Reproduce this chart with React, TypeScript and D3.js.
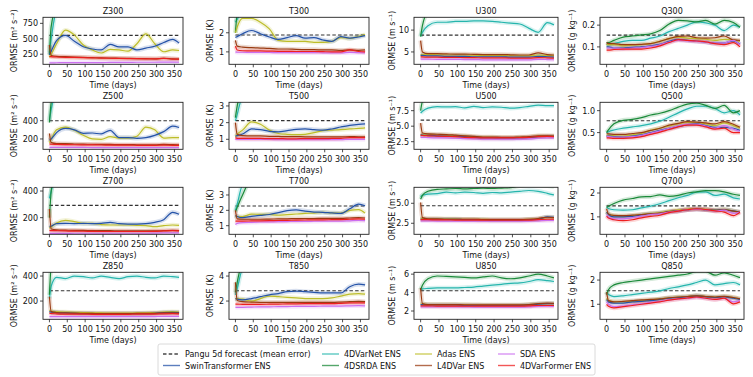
import * as d3 from "d3";

// sample days used for the smoothed curves
const DAYS = [0, 5, 20, 45, 70, 95, 120, 145, 170, 195, 220, 245, 270, 295, 320, 345, 363];

// panel order: Z300 T300 U300 Q300 / Z500 ... / Z700 ... / Z850 ...
const PANELS = ["Z300", "T300", "U300", "Q300", "Z500", "T500", "U500", "Q500", "Z700", "T700", "U700", "Q700", "Z850", "T850", "U850", "Q850"];
const UNITS = ["ORMSE (m² s⁻²)", "ORMSE (K)", "ORMSE (m s⁻¹)", "ORMSE (g kg⁻¹)"];

const Y_DOMAINS = [
  [87, 848], [0.35, 2.81], [2.17, 12.93], [0.02, 0.236],
  [87, 601], [0.4, 3.22], [1.27, 8.85], [0.12, 1.19],
  [75, 428], [0.44, 3.5], [1.12, 7.0], [0.27, 2.24],
  [54, 430], [0.54, 4.3], [1.1, 6.2], [0.38, 2.32],
];
const Y_TICKS = [
  [250, 500, 750], [1, 2], [5, 10], [0.1, 0.2],
  [200, 400], [1, 2, 3], [2.5, 5.0, 7.5], [0.5, 1.0],
  [200, 400], [1, 2, 3], [2.5, 5.0], [1, 2],
  [200, 400], [2, 4], [2, 4, 6], [1, 2],
];
const Y_FMT = ["d", "d", "d", ".1f", "d", "d", ".1f", ".1f", "d", "d", ".1f", "d", "d", "d", "d", "d"];
const X_TICKS = [0, 50, 100, 150, 200, 250, 300, 350];

const PANGU = [555, 1.88, 8.85, 0.154, 400, 2.12, 5.97, 0.77, 292, 2.28, 4.7, 1.46, 282, 2.82, 4.2, 1.56];

const SWIN = [
  [240, 300, 470, 555, 460, 370, 335, 320, 410, 370, 370, 320, 350, 380, 440, 490, 430],
  [1.75, 1.8, 1.95, 2.12, 1.95, 1.78, 1.65, 1.75, 1.85, 1.72, 1.75, 1.62, 1.55, 1.8, 1.72, 1.78, 1.85],
  [4.2, 4.2, 4.1, 4.1, 4.0, 4.0, 4.0, 3.9, 3.9, 3.9, 3.9, 3.8, 3.8, 3.8, 4.0, 3.9, 3.8],
  [0.1, 0.1, 0.095, 0.095, 0.098, 0.1, 0.105, 0.112, 0.125, 0.135, 0.13, 0.127, 0.122, 0.118, 0.118, 0.128, 0.112],
  [185, 200, 270, 315, 300, 262, 265, 255, 295, 215, 215, 207, 215, 240, 280, 340, 325],
  [1.2, 1.22, 1.32, 1.62, 1.58, 1.48, 1.45, 1.52, 1.6, 1.62, 1.58, 1.55, 1.62, 1.74, 1.84, 1.9, 1.92],
  [3.6, 3.55, 3.5, 3.45, 3.4, 3.35, 3.3, 3.2, 3.1, 3.1, 3.05, 3.05, 3.1, 3.15, 3.3, 3.35, 3.35],
  [0.42, 0.42, 0.41, 0.4, 0.42, 0.45, 0.5, 0.55, 0.6, 0.64, 0.68, 0.7, 0.66, 0.62, 0.62, 0.6, 0.55],
  [130, 135, 155, 157, 155, 157, 155, 157, 165, 155, 152, 152, 155, 165, 185, 240, 225],
  [1.67, 1.6, 1.52, 1.61, 1.67, 1.73, 1.85, 1.98, 2.03, 1.95, 1.89, 1.87, 1.83, 1.8, 2.1, 2.4, 2.3],
  [3.0, 3.0, 3.0, 3.0, 3.0, 3.0, 2.95, 2.95, 2.95, 2.9, 2.9, 2.9, 2.9, 2.95, 3.0, 3.3, 3.25],
  [1.2, 1.1, 1.0, 1.0, 1.02, 1.08, 1.12, 1.15, 1.22, 1.25, 1.3, 1.33, 1.3, 1.28, 1.3, 1.25, 1.2],
  [115, 112, 108, 105, 102, 100, 100, 98, 98, 98, 98, 100, 100, 102, 108, 110, 108],
  [2.2, 2.15, 2.1, 2.2, 2.35, 2.5, 2.6, 2.75, 2.8, 2.75, 2.7, 2.65, 2.65, 2.65, 3.15, 3.35, 3.3],
  [2.7, 2.7, 2.65, 2.65, 2.65, 2.65, 2.6, 2.6, 2.6, 2.6, 2.6, 2.6, 2.6, 2.65, 2.75, 2.8, 2.8],
  [1.2, 1.1, 1.05, 1.05, 1.1, 1.12, 1.15, 1.2, 1.25, 1.28, 1.3, 1.35, 1.3, 1.28, 1.3, 1.25, 1.2],
];

const VARNET = [
  [280, 500, 950, 1000, 1000, 1000, 1000, 1000, 1000, 1000, 1000, 1000, 1000, 1000, 1000, 1000, 1000],
  [2.55, 2.7, 3.2, 3.5, 3.5, 3.5, 3.5, 3.5, 3.5, 3.5, 3.5, 3.5, 3.5, 3.5, 3.5, 3.5, 3.5],
  [8.6, 9.5, 11.0, 11.8, 11.8, 12.0, 12.0, 12.1, 12.1, 12.0, 11.8, 11.6, 11.4, 10.4, 9.5, 11.7, 11.2],
  [0.11, 0.11, 0.115, 0.125, 0.13, 0.13, 0.14, 0.15, 0.17, 0.185, 0.2, 0.215, 0.21, 0.2, 0.175, 0.2, 0.19],
  [400, 520, 700, 700, 700, 700, 700, 700, 700, 700, 700, 700, 700, 700, 700, 700, 700],
  [2.1, 2.5, 3.5, 3.5, 3.5, 3.5, 3.5, 3.5, 3.5, 3.5, 3.5, 3.5, 3.5, 3.5, 3.5, 3.5, 3.5],
  [7.1, 7.4, 7.9, 8.15, 8.1, 8.15, 7.95, 8.2, 8.0, 8.1, 8.05, 7.9, 8.0, 8.2, 8.4, 8.3, 8.3],
  [0.5, 0.52, 0.56, 0.6, 0.63, 0.66, 0.7, 0.76, 0.85, 0.95, 1.04, 1.1, 1.1, 1.05, 0.95, 1.0, 0.9],
  [345, 400, 500, 500, 500, 500, 500, 500, 500, 500, 500, 500, 500, 500, 500, 500, 500],
  [2.0, 2.4, 3.6, 3.6, 3.6, 3.6, 3.6, 3.6, 3.6, 3.6, 3.6, 3.6, 3.6, 3.6, 3.6, 3.6, 3.6],
  [5.8, 6.0, 6.15, 6.2, 6.4, 6.3, 6.4, 6.35, 6.25, 6.35, 6.3, 6.4, 6.5, 6.6, 6.5, 6.25, 6.05],
  [1.42, 1.35, 1.3, 1.28, 1.3, 1.38, 1.45, 1.55, 1.68, 1.8, 1.9, 2.04, 2.05, 1.9, 1.95, 1.8, 1.75],
  [220, 320, 390, 380, 400, 395, 385, 400, 390, 380, 395, 400, 390, 385, 400, 395, 390],
  [2.5, 3.0, 4.5, 4.5, 4.5, 4.5, 4.5, 4.5, 4.5, 4.5, 4.5, 4.5, 4.5, 4.5, 4.5, 4.5, 4.5],
  [4.3, 4.4, 4.45, 4.5, 4.5, 4.5, 4.55, 4.6, 4.7, 4.8, 4.9, 5.0, 5.05, 5.2, 5.4, 5.3, 5.2],
  [1.5, 1.4, 1.32, 1.35, 1.4, 1.45, 1.5, 1.55, 1.65, 1.72, 1.8, 1.9, 2.0, 1.8, 1.85, 1.9, 1.8],
];

const SRDA = [
  [240, 700, 1000, 1000, 1000, 1000, 1000, 1000, 1000, 1000, 1000, 1000, 1000, 1000, 1000, 1000, 1000],
  [2.0, 3.0, 3.5, 3.5, 3.5, 3.5, 3.5, 3.5, 3.5, 3.5, 3.5, 3.5, 3.5, 3.5, 3.5, 3.5, 3.5],
  [8.5, 11, 14, 14, 14, 14, 14, 14, 14, 14, 14, 14, 14, 14, 14, 14, 14],
  [0.12, 0.12, 0.13, 0.145, 0.15, 0.155, 0.16, 0.175, 0.205, 0.222, 0.22, 0.215, 0.222, 0.205, 0.222, 0.212, 0.19],
  [380, 600, 800, 800, 800, 800, 800, 800, 800, 800, 800, 800, 800, 800, 800, 800, 800],
  [2.3, 3.0, 4, 4, 4, 4, 4, 4, 4, 4, 4, 4, 4, 4, 4, 4, 4],
  [7.5, 9, 10, 10, 10, 10, 10, 10, 10, 10, 10, 10, 10, 10, 10, 10, 10],
  [0.5, 0.56, 0.7, 0.78, 0.8, 0.84, 0.9, 0.94, 1.0, 1.08, 1.15, 1.17, 1.12, 1.05, 1.12, 0.95, 1.0],
  [200, 400, 600, 600, 600, 600, 600, 600, 600, 600, 600, 600, 600, 600, 600, 600, 600],
  [1.9, 2.2, 3.0, 4, 4, 4, 4, 4, 4, 4, 4, 4, 4, 4, 4, 4, 4],
  [5.5, 6.0, 6.5, 6.75, 6.8, 6.85, 6.8, 6.85, 6.9, 6.85, 6.9, 6.95, 7.2, 7.3, 7.3, 7.2, 7.1],
  [1.4, 1.45, 1.56, 1.7, 1.77, 1.84, 1.85, 1.92, 1.86, 1.9, 2.0, 2.05, 2.1, 2.1, 2.05, 1.95, 1.9],
  [250, 500, 700, 700, 700, 700, 700, 700, 700, 700, 700, 700, 700, 700, 700, 700, 700],
  [2.7, 3.5, 5, 5, 5, 5, 5, 5, 5, 5, 5, 5, 5, 5, 5, 5, 5],
  [4.3, 4.8, 5.5, 5.8, 5.75, 5.7, 5.65, 5.6, 5.7, 5.8, 5.6, 5.5, 5.6, 5.8, 6.0, 5.8, 5.6],
  [1.4, 1.6, 1.8, 1.9, 1.95, 2.0, 2.05, 2.1, 2.15, 2.2, 2.25, 2.35, 2.35, 2.2, 2.3, 2.2, 2.1],
];

const ADAS = [
  [200, 250, 420, 640, 560, 400, 320, 270, 330, 320, 300, 420, 580, 420, 290, 320, 310],
  [2.0, 2.3, 2.75, 2.75, 2.55, 2.2, 1.6, 1.55, 1.55, 1.55, 1.5, 1.5, 1.55, 1.75, 1.7, 1.82, 1.9],
  [4.4, 4.4, 4.4, 4.35, 4.3, 4.3, 4.3, 4.25, 4.2, 4.2, 4.2, 4.15, 4.1, 4.1, 4.3, 4.2, 4.1],
  [0.11, 0.11, 0.11, 0.105, 0.108, 0.11, 0.115, 0.125, 0.138, 0.145, 0.14, 0.138, 0.135, 0.13, 0.135, 0.132, 0.125],
  [160, 200, 300, 330, 295, 240, 200, 195, 225, 210, 210, 230, 330, 300, 210, 215, 214],
  [1.15, 1.3, 1.55, 2.05, 1.9, 1.55, 1.35, 1.3, 1.28, 1.3, 1.4, 1.52, 1.55, 1.58, 1.62, 1.65, 1.68],
  [3.7, 3.65, 3.6, 3.55, 3.5, 3.45, 3.4, 3.3, 3.2, 3.2, 3.15, 3.15, 3.2, 3.25, 3.4, 3.4, 3.4],
  [0.45, 0.44, 0.43, 0.42, 0.45, 0.48, 0.55, 0.6, 0.65, 0.7, 0.73, 0.73, 0.7, 0.66, 0.72, 0.66, 0.6],
  [120, 130, 160, 180, 170, 157, 157, 148, 145, 145, 145, 142, 140, 132, 140, 145, 142],
  [1.6, 1.6, 1.6, 1.75, 1.74, 1.74, 1.68, 1.72, 1.76, 1.8, 1.82, 1.87, 1.83, 1.82, 2.0, 2.05, 1.82],
  [3.1, 3.1, 3.05, 3.05, 3.05, 3.05, 3.0, 3.0, 3.0, 2.95, 2.95, 2.95, 2.95, 3.0, 3.05, 3.2, 3.2],
  [1.2, 1.12, 1.05, 1.02, 1.05, 1.1, 1.15, 1.18, 1.25, 1.3, 1.33, 1.35, 1.32, 1.3, 1.32, 1.25, 1.2],
  [125, 120, 115, 112, 110, 108, 106, 105, 104, 104, 104, 105, 106, 108, 112, 115, 112],
  [2.2, 2.2, 2.15, 2.0, 2.2, 2.4, 2.35, 2.3, 2.25, 2.2, 2.2, 2.2, 2.25, 2.4, 2.55, 2.6, 2.55],
  [2.75, 2.75, 2.7, 2.7, 2.7, 2.7, 2.7, 2.65, 2.65, 2.65, 2.65, 2.65, 2.65, 2.7, 2.75, 2.8, 2.8],
  [1.25, 1.15, 1.1, 1.1, 1.12, 1.15, 1.18, 1.22, 1.27, 1.3, 1.32, 1.36, 1.32, 1.3, 1.32, 1.28, 1.22],
];

const L4DVAR = [
  [400, 230, 215, 210, 205, 200, 195, 190, 188, 185, 182, 180, 178, 175, 185, 175, 170],
  [1.6, 1.3, 1.25, 1.22, 1.2, 1.18, 1.15, 1.15, 1.13, 1.12, 1.12, 1.1, 1.1, 1.08, 1.1, 1.08, 1.1],
  [7.6, 5.0, 4.6, 4.6, 4.55, 4.5, 4.5, 4.45, 4.4, 4.4, 4.4, 4.35, 4.3, 4.3, 4.8, 4.4, 4.3],
  [0.12, 0.115, 0.115, 0.11, 0.11, 0.112, 0.115, 0.125, 0.138, 0.148, 0.15, 0.142, 0.14, 0.142, 0.15, 0.132, 0.13],
  [260, 160, 150, 148, 145, 143, 142, 140, 140, 138, 138, 137, 136, 136, 140, 138, 137],
  [2.0, 1.3, 1.22, 1.2, 1.2, 1.18, 1.17, 1.16, 1.16, 1.15, 1.15, 1.14, 1.14, 1.14, 1.16, 1.15, 1.15],
  [5.5, 3.9, 3.75, 3.7, 3.65, 3.55, 3.45, 3.35, 3.25, 3.25, 3.2, 3.2, 3.25, 3.3, 3.45, 3.45, 3.4],
  [0.48, 0.47, 0.46, 0.46, 0.48, 0.5, 0.55, 0.6, 0.67, 0.71, 0.75, 0.74, 0.72, 0.7, 0.75, 0.69, 0.62],
  [265, 115, 108, 106, 105, 104, 103, 102, 102, 101, 101, 100, 100, 100, 102, 104, 103],
  [2.0, 1.45, 1.42, 1.42, 1.42, 1.43, 1.44, 1.45, 1.46, 1.47, 1.47, 1.48, 1.48, 1.48, 1.5, 1.52, 1.5],
  [5.1, 3.2, 3.05, 3.05, 3.0, 3.0, 3.0, 3.0, 2.95, 2.95, 2.95, 2.95, 2.95, 3.0, 3.1, 3.25, 3.2],
  [1.35, 1.12, 1.06, 1.05, 1.07, 1.1, 1.13, 1.16, 1.22, 1.26, 1.3, 1.32, 1.3, 1.27, 1.3, 1.24, 1.2],
  [235, 115, 108, 105, 103, 102, 101, 100, 100, 100, 100, 101, 101, 102, 105, 105, 104],
  [3.5, 2.05, 1.95, 1.92, 1.9, 1.9, 1.9, 1.9, 1.9, 1.9, 1.9, 1.9, 1.9, 1.92, 1.95, 1.98, 1.95],
  [4.5, 2.8, 2.7, 2.7, 2.7, 2.7, 2.68, 2.68, 2.66, 2.66, 2.66, 2.66, 2.66, 2.7, 2.8, 2.85, 2.82],
  [1.5, 1.15, 1.1, 1.12, 1.15, 1.18, 1.2, 1.22, 1.27, 1.3, 1.32, 1.35, 1.32, 1.3, 1.33, 1.28, 1.22],
];

const SDA = [
  [110, 110, 112, 115, 115, 115, 115, 115, 118, 118, 118, 120, 120, 120, 122, 122, 120],
  [1.0, 0.98, 0.98, 0.97, 0.97, 0.97, 0.96, 0.96, 0.96, 0.96, 0.96, 0.95, 0.95, 0.95, 0.97, 0.96, 0.95],
  [3.35, 3.35, 3.35, 3.3, 3.3, 3.3, 3.25, 3.25, 3.2, 3.2, 3.2, 3.2, 3.2, 3.2, 3.3, 3.25, 3.2],
  [0.095, 0.095, 0.095, 0.092, 0.095, 0.097, 0.102, 0.11, 0.122, 0.13, 0.128, 0.125, 0.122, 0.117, 0.118, 0.13, 0.11],
  [108, 108, 108, 108, 107, 107, 106, 106, 106, 106, 105, 105, 105, 105, 106, 106, 105],
  [1.0, 1.0, 1.0, 0.99, 0.99, 0.99, 0.98, 0.98, 0.98, 0.98, 0.98, 0.98, 0.98, 0.98, 1.0, 1.0, 1.0],
  [3.2, 3.2, 3.15, 3.1, 3.1, 3.05, 3.0, 2.95, 2.9, 2.9, 2.9, 2.9, 2.92, 2.95, 3.05, 3.1, 3.1],
  [0.42, 0.41, 0.4, 0.4, 0.41, 0.44, 0.49, 0.54, 0.6, 0.65, 0.69, 0.69, 0.65, 0.6, 0.66, 0.58, 0.53],
  [82, 82, 82, 82, 83, 83, 83, 83, 83, 83, 83, 83, 83, 84, 85, 86, 86],
  [1.08, 1.15, 1.2, 1.22, 1.24, 1.25, 1.26, 1.27, 1.28, 1.28, 1.29, 1.3, 1.3, 1.3, 1.32, 1.34, 1.33],
  [2.8, 2.8, 2.8, 2.78, 2.78, 2.78, 2.76, 2.76, 2.75, 2.75, 2.75, 2.75, 2.75, 2.78, 2.8, 2.85, 2.85],
  [1.1, 1.0, 0.92, 0.92, 0.97, 1.03, 1.1, 1.13, 1.2, 1.25, 1.3, 1.32, 1.3, 1.25, 1.28, 1.15, 1.2],
  [75, 75, 75, 75, 75, 75, 75, 75, 75, 75, 75, 75, 75, 76, 77, 77, 77],
  [1.5, 1.5, 1.5, 1.52, 1.53, 1.54, 1.55, 1.56, 1.57, 1.58, 1.58, 1.59, 1.6, 1.6, 1.62, 1.63, 1.62],
  [2.45, 2.45, 2.45, 2.45, 2.44, 2.44, 2.44, 2.43, 2.43, 2.43, 2.43, 2.43, 2.43, 2.45, 2.5, 2.52, 2.5],
  [1.1, 1.0, 0.9, 0.93, 0.98, 1.02, 1.08, 1.12, 1.18, 1.22, 1.25, 1.28, 1.25, 1.2, 1.25, 1.1, 1.15],
];

const FORMER = [
  [215, 210, 205, 200, 198, 195, 190, 188, 185, 182, 180, 178, 176, 174, 182, 172, 170],
  [1.3, 1.1, 1.06, 1.05, 1.05, 1.04, 1.03, 1.03, 1.02, 1.02, 1.02, 1.01, 1.0, 1.0, 1.1, 1.02, 1.0],
  [3.9, 3.85, 3.8, 3.8, 3.75, 3.75, 3.7, 3.7, 3.65, 3.65, 3.65, 3.6, 3.6, 3.6, 3.7, 3.65, 3.6],
  [0.085, 0.085, 0.088, 0.09, 0.09, 0.09, 0.095, 0.105, 0.12, 0.133, 0.13, 0.127, 0.123, 0.115, 0.11, 0.12, 0.1],
  [148, 142, 140, 138, 137, 136, 135, 134, 133, 132, 132, 131, 130, 130, 133, 130, 130],
  [1.1, 1.06, 1.05, 1.05, 1.05, 1.04, 1.04, 1.03, 1.03, 1.04, 1.04, 1.04, 1.05, 1.06, 1.1, 1.1, 1.1],
  [3.55, 3.5, 3.45, 3.4, 3.35, 3.3, 3.2, 3.15, 3.1, 3.1, 3.1, 3.1, 3.15, 3.2, 3.3, 3.35, 3.3],
  [0.38, 0.38, 0.37, 0.37, 0.38, 0.41, 0.46, 0.51, 0.57, 0.63, 0.67, 0.67, 0.63, 0.58, 0.6, 0.5, 0.5],
  [105, 103, 102, 100, 99, 98, 97, 96, 96, 96, 96, 96, 96, 97, 100, 102, 100],
  [1.3, 1.3, 1.3, 1.31, 1.32, 1.33, 1.34, 1.35, 1.36, 1.37, 1.38, 1.38, 1.39, 1.4, 1.42, 1.44, 1.42],
  [2.95, 2.95, 2.95, 2.92, 2.92, 2.9, 2.9, 2.9, 2.88, 2.88, 2.88, 2.88, 2.88, 2.9, 2.95, 3.0, 3.0],
  [1.03, 0.95, 0.88, 0.84, 0.88, 0.96, 1.02, 1.07, 1.18, 1.24, 1.3, 1.34, 1.31, 1.25, 1.2, 1.05, 1.2],
  [105, 100, 98, 96, 95, 95, 94, 94, 94, 94, 94, 95, 95, 96, 98, 99, 98],
  [1.75, 1.75, 1.74, 1.74, 1.74, 1.75, 1.76, 1.77, 1.78, 1.79, 1.8, 1.8, 1.8, 1.82, 1.85, 1.86, 1.85],
  [2.55, 2.55, 2.55, 2.54, 2.54, 2.54, 2.53, 2.53, 2.53, 2.53, 2.53, 2.53, 2.53, 2.55, 2.6, 2.6, 2.6],
  [1.0, 0.92, 0.85, 0.9, 0.95, 1.0, 1.05, 1.1, 1.17, 1.22, 1.26, 1.3, 1.25, 1.2, 1.25, 1.02, 1.1],
];

const SERIES = [
  { name: "4DVarNet ENS", color: "#26b5ad", data: VARNET },
  { name: "4DSRDA ENS", color: "#1b8a3a", data: SRDA },
  { name: "Adas ENS", color: "#bdbd2a", data: ADAS },
  { name: "SwinTransformer ENS", color: "#2553a8", data: SWIN },
  { name: "L4DVar ENS", color: "#9a3b12", data: L4DVAR },
  { name: "SDA ENS", color: "#cc6ff0", data: SDA },
  { name: "4DVarFormer ENS", color: "#ee1f1f", data: FORMER },
];

const COL_X = [43, 229, 414, 600];
const COL_W = [140, 140, 144, 144];
const ROW_Y = [17.3, 102.3, 187.3, 272.3];
const ROW_H = 47;
const YLABEL_X = [14, 210.5, 392, 572.5];
const FONT = "DejaVu Sans";

function Panel({ idx }: { idx: number }) {
  const row = Math.floor(idx / 4);
  const col = idx % 4;
  const x0 = COL_X[col];
  const y0 = ROW_Y[row];
  const w = COL_W[col];
  const h = ROW_H;
  const x = d3.scaleLinear().domain([-18, 374]).range([x0, x0 + w]);
  const y = d3.scaleLinear().domain(Y_DOMAINS[idx]).range([y0 + h, y0]);
  const line = d3
    .line<number>()
    .x((_, i) => x(DAYS[i]))
    .y((d) => y(d))
    .curve(d3.curveMonotoneX);
  const fmt = Y_FMT[idx] === "d" ? d3.format("d") : d3.format(Y_FMT[idx]);
  const clipId = `clip${idx}`;
  const lastDay = DAYS[DAYS.length - 1];
  return (
    <g>
      <clipPath id={clipId}>
        <rect x={x0} y={y0} width={w} height={h} />
      </clipPath>
      <g clipPath={`url(#${clipId})`}>
        {SERIES.map((s) => (
          <path key={"h" + s.name} d={line(s.data[idx]) || ""} fill="none" stroke={s.color} strokeWidth={4.5} strokeOpacity={0.18} />
        ))}
        <line x1={x(0)} x2={x(lastDay)} y1={y(PANGU[idx])} y2={y(PANGU[idx])} stroke="#333" strokeWidth={1.1} strokeDasharray="3.5,2.2" />
        {SERIES.map((s) => (
          <path key={s.name} d={line(s.data[idx]) || ""} fill="none" stroke={s.color} strokeWidth={1.2} />
        ))}
      </g>
      <rect x={x0} y={y0} width={w} height={h} fill="none" stroke="#222" strokeWidth={0.9} />
      {X_TICKS.map((t) => (
        <g key={t}>
          <line x1={x(t)} x2={x(t)} y1={y0 + h} y2={y0 + h + 3} stroke="#222" strokeWidth={0.8} />
          <text x={x(t)} y={y0 + h + 13} textAnchor="middle" fontSize={8} fontFamily={FONT} fill="#111">
            {t}
          </text>
        </g>
      ))}
      {Y_TICKS[idx].map((t) => (
        <g key={t}>
          <line x1={x0 - 3} x2={x0} y1={y(t)} y2={y(t)} stroke="#222" strokeWidth={0.8} />
          <text x={x0 - 5} y={y(t) + 3} textAnchor="end" fontSize={8} fontFamily={FONT} fill="#111">
            {fmt(t)}
          </text>
        </g>
      ))}
      <text x={x0 + w / 2} y={y0 + h + 24} textAnchor="middle" fontSize={8} fontFamily={FONT} fill="#111">
        Time (days)
      </text>
      <text x={x0 + w / 2} y={y0 - 3.5} textAnchor="middle" fontSize={8} fontFamily={FONT} fill="#111">
        {PANELS[idx]}
      </text>
      <text
        transform={`translate(${YLABEL_X[col]},${y0 + h / 2}) rotate(-90)`}
        textAnchor="middle"
        dominantBaseline="middle"
        fontSize={8}
        fontFamily={FONT}
        fill="#111"
      >
        {UNITS[col]}
      </text>
    </g>
  );
}

const LEGEND_ITEMS = [
  { name: "Pangu 5d forecast (mean error)", color: "#333", dash: true },
  { name: "SwinTransformer ENS", color: "#2553a8" },
  { name: "4DVarNet ENS", color: "#26b5ad" },
  { name: "4DSRDA ENS", color: "#1b8a3a" },
  { name: "Adas ENS", color: "#bdbd2a" },
  { name: "L4DVar ENS", color: "#9a3b12" },
  { name: "SDA ENS", color: "#cc6ff0" },
  { name: "4DVarFormer ENS", color: "#ee1f1f" },
];
const LEG_COL_X = [163, 322, 415, 498];
const LEG_ROW_Y = [354, 365.5];

function Legend() {
  return (
    <g>
      <rect x={158} y={344} width={437} height={31} rx={2} fill="#fff" stroke="#d0d0d0" strokeWidth={0.8} />
      {LEGEND_ITEMS.map((it, i) => {
        const cx = LEG_COL_X[Math.floor(i / 2)];
        const cy = LEG_ROW_Y[i % 2];
        return (
          <g key={it.name}>
            <line x1={cx} x2={cx + 17} y1={cy} y2={cy} stroke={it.color} strokeOpacity={it.dash ? 0.9 : 0.75} strokeWidth={1.4} strokeDasharray={it.dash ? "3.5,2.2" : undefined} />
            <text x={cx + 22} y={cy + 3} fontSize={8} fontFamily={FONT} fill="#111">
              {it.name}
            </text>
          </g>
        );
      })}
    </g>
  );
}

export default function App() {
  return (
    <svg width={753} height={377} style={{ position: "absolute", left: 0, top: 0, background: "#fff" }}>
      {PANELS.map((_, i) => (
        <Panel key={i} idx={i} />
      ))}
      <Legend />
    </svg>
  );
}
